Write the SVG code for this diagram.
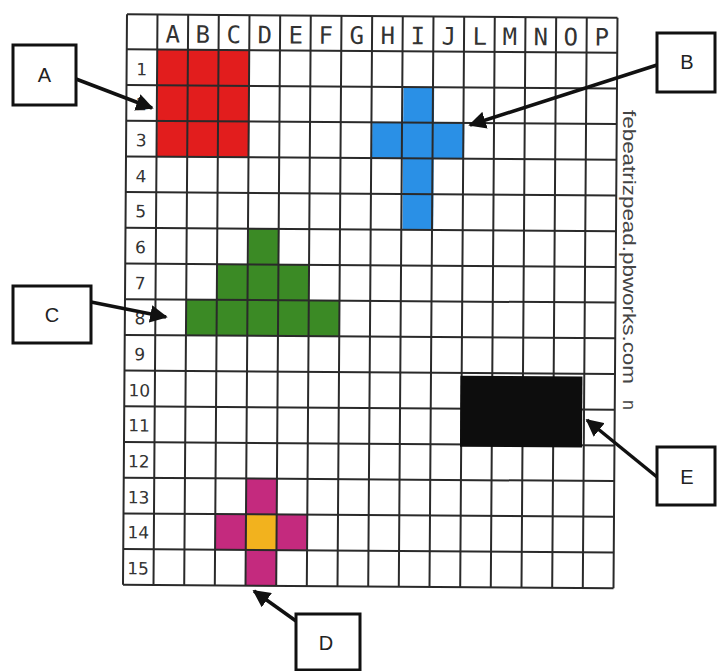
<svg xmlns="http://www.w3.org/2000/svg" width="717" height="671" viewBox="0 0 717 671">
<style>
.gl{stroke:#2a2a2a;stroke-width:2;fill:none}
.hd{font-family:"DejaVu Sans Mono","Liberation Mono",monospace;font-size:24px;fill:#333;text-anchor:middle}
.rn{font-family:"DejaVu Sans","Liberation Sans",sans-serif;font-size:17px;fill:#333;text-anchor:middle}
.box{fill:#fff;stroke:#111;stroke-width:3}
.lbl{font-family:"Liberation Sans",Arial,sans-serif;font-size:20px;fill:#222;text-anchor:middle}
.ar{stroke:#111;stroke-width:3.5;fill:none;marker-end:url(#ah)}
</style>
<defs>
<marker id="ah" viewBox="0 0 10 10" refX="9" refY="5" markerWidth="5" markerHeight="5" orient="auto" markerUnits="strokeWidth">
<path d="M0,0 L10,5 L0,10 z" fill="#111"/>
</marker>
</defs>
<rect width="717" height="671" fill="#fff"/>
<g id="grid" transform="rotate(0.4 370 300)">
<g id="fills">
<rect x="156" y="51" width="92" height="107" fill="#e21d1d"/>
<rect x="402" y="86.7" width="30.7" height="142.8" fill="#2a90e6"/>
<rect x="371" y="122.4" width="92" height="35.7" fill="#2a90e6"/>
<rect x="248" y="229.5" width="30.7" height="35.7" fill="#3b8a25"/>
<rect x="217" y="265.2" width="92" height="35.7" fill="#3b8a25"/>
<rect x="186.5" y="300.9" width="153.3" height="35.7" fill="#3b8a25"/>
<rect x="248" y="479" width="30.7" height="107" fill="#c42a7e"/>
<rect x="217" y="515" width="92" height="35.7" fill="#c42a7e"/>
<rect x="248" y="515" width="30.7" height="35.7" fill="#f2b21e"/>
</g>
<g id="lines" class="gl">
<path d="M125,16V586.5M155.5,16V586.5M186.2,16V586.5M216.8,16V586.5M247.5,16V586.5M278.2,16V586.5M308.8,16V586.5M339.5,16V586.5M370.2,16V586.5M400.8,16V586.5M431.5,16V586.5M462.2,16V586.5M492.8,16V586.5M523.5,16V586.5M554.2,16V586.5M584.8,16V586.5M615.5,16V586.5"/>
<path d="M125,16H615.5M125,51H615.5M125,86.7H615.5M125,122.4H615.5M125,158.1H615.5M125,193.8H615.5M125,229.5H615.5M125,265.2H615.5M125,300.9H615.5M125,336.6H615.5M125,372.3H615.5M125,408H615.5M125,443.7H615.5M125,479.4H615.5M125,515.1H615.5M125,550.8H615.5M125,586.5H615.5"/>
</g>
<rect id="blackfill" x="461" y="375" width="122" height="71" fill="#0d0d0d"/>
<g id="headers" class="hd">
<text x="171" y="44">A</text><text x="201" y="44">B</text><text x="232" y="44">C</text><text x="263" y="44">D</text><text x="294" y="44">E</text><text x="324" y="44">F</text><text x="355" y="44">G</text><text x="386" y="44">H</text><text x="416" y="44">I</text><text x="447" y="44">J</text><text x="478" y="44">L</text><text x="508" y="44">M</text><text x="539" y="44">N</text><text x="569" y="44">O</text><text x="600" y="44">P</text>
</g>
<g id="rownums" class="rn">
<text x="140" y="77">1</text><text x="140" y="112">2</text><text x="140" y="148">3</text><text x="140" y="184">4</text><text x="140" y="219">5</text><text x="140" y="255">6</text><text x="140" y="291">7</text><text x="140" y="326">8</text><text x="140" y="362">9</text><text x="140" y="398">10</text><text x="140" y="433">11</text><text x="140" y="469">12</text><text x="140" y="505">13</text><text x="140" y="540">14</text><text x="140" y="576">15</text>
</g>
</g>
<g id="credit" font-family="Liberation Sans,Arial,sans-serif" font-size="18" fill="#444">
<text transform="translate(623 110) rotate(90)" textLength="274" lengthAdjust="spacingAndGlyphs">febeatrizpead.pbworks.com</text>
<text transform="translate(623 400) rotate(90)">n</text>
</g>
<g id="connectors">
<line class="ar" x1="76" y1="79" x2="152" y2="108"/>
<line class="ar" x1="657" y1="65" x2="470" y2="125"/>
<line class="ar" x1="91" y1="302" x2="166" y2="317"/>
<line class="ar" x1="296" y1="621" x2="254" y2="591"/>
<line class="ar" x1="657" y1="477" x2="587" y2="420"/>
</g>
<g id="nodeA"><rect class="box" x="13" y="45" width="63" height="60"/><text class="lbl" x="44.5" y="82">A</text></g>
<g id="nodeB"><rect class="box" x="657" y="33" width="58" height="59"/><text class="lbl" x="687" y="69">B</text></g>
<g id="nodeC"><rect class="box" x="13" y="286" width="78" height="57"/><text class="lbl" x="52" y="322">C</text></g>
<g id="nodeD"><rect class="box" x="296" y="614" width="64" height="56"/><text class="lbl" x="326" y="650">D</text></g>
<g id="nodeE"><rect class="box" x="657" y="447" width="58" height="58"/><text class="lbl" x="687" y="484">E</text></g>
</svg>
